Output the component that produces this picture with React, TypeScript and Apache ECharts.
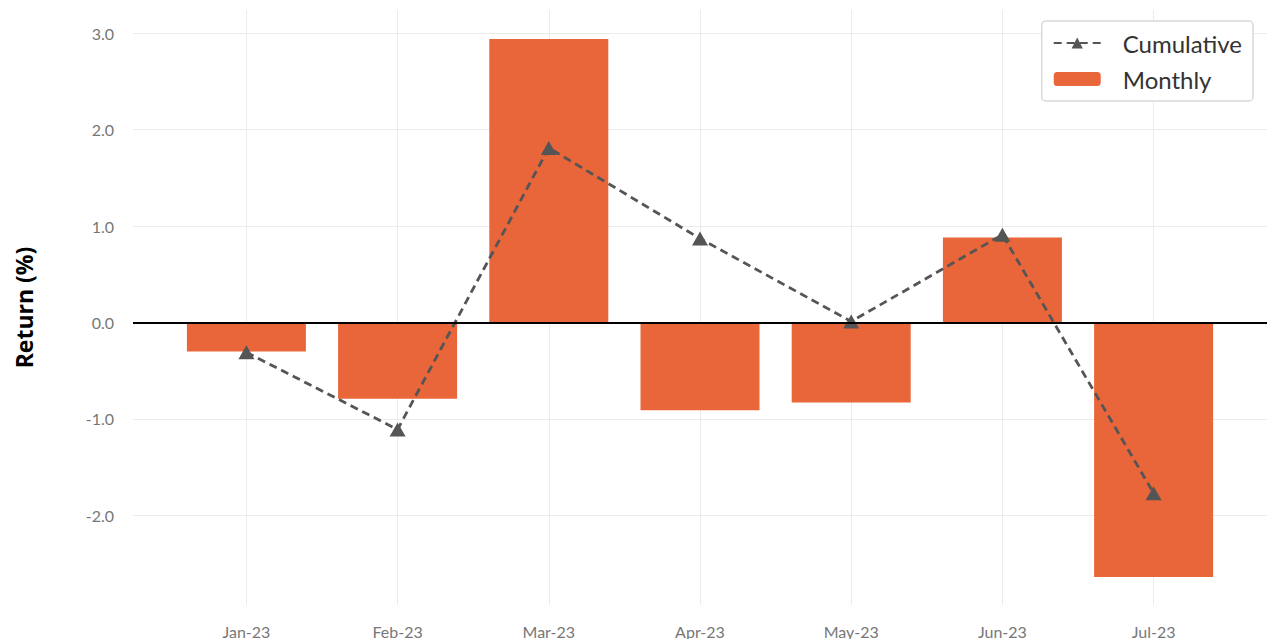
import React, { useEffect, useRef } from "react";
import * as echarts from "echarts";

const months = ["Jan-23", "Feb-23", "Mar-23", "Apr-23", "May-23", "Jun-23", "Jul-23"];
const monthly = [-0.3, -0.79, 2.94, -0.91, -0.83, 0.88, -2.64];
const cumulative = [-0.31, -1.11, 1.81, 0.87, 0.01, 0.91, -1.77];
const yMin = -2.93;
const yMax = 3.24;

export default function App() {
  const ref = useRef<HTMLDivElement>(null);
  useEffect(() => {
    if (!ref.current) return;
    const chart = echarts.init(ref.current, null, { renderer: "svg" });
    const font = "Lato, 'Noto Sans', sans-serif";
    chart.setOption({
      animation: false,
      backgroundColor: "#ffffff",
      textStyle: { fontFamily: font },
      grid: { left: 133, right: 0, top: 10, bottom: 33, containLabel: false },
      legend: {
        orient: "vertical",
        right: 14,
        top: 21,
        padding: [10, 11, 10, 11],
        itemGap: 12,
        itemWidth: 47,
        itemHeight: 14,
        borderColor: "#d9d9d9",
        borderWidth: 1.5,
        borderRadius: 4,
        backgroundColor: "#ffffff",
        textStyle: { fontSize: 24, color: "#333333", fontFamily: font, padding: [0, 0, 0, 17] },
        data: ["Cumulative", "Monthly"],
      },
      xAxis: {
        type: "value",
        min: 0.25,
        max: 7.75,
        minInterval: 1,
        maxInterval: 1,
        axisLine: { show: false },
        axisTick: { show: false },
        axisLabel: {
          showMinLabel: false,
          showMaxLabel: false,
          color: "#777777",
          fontSize: 16,
          margin: 18,
          fontFamily: font,
          formatter: (v: number) => (Number.isInteger(v) && v >= 1 && v <= months.length ? months[v - 1] : ""),
        },
        splitLine: {
          show: true,
          showMinLine: false,
          showMaxLine: false,
          lineStyle: { color: "#ebebeb", width: 1 },
        },
      },
      yAxis: {
        type: "value",
        min: yMin,
        max: yMax,
        minInterval: 1,
        maxInterval: 1,
        name: "Return (%)",
        nameLocation: "middle",
        nameGap: 98,
        nameTextStyle: { fontSize: 23, fontWeight: "bold", color: "#000000", fontFamily: "'Open Sans', Lato, sans-serif" },
        axisLine: { show: false },
        axisTick: { show: false },
        axisLabel: {
          showMinLabel: false,
          showMaxLabel: false,
          color: "#777777",
          fontSize: 16,
          margin: 19,
          fontFamily: font,
          formatter: (v: number) => v.toFixed(1),
        },
        splitLine: {
          show: true,
          showMinLine: false,
          showMaxLine: false,
          lineStyle: { color: "#ebebeb", width: 1 },
        },
      },
      series: [
        {
          name: "Monthly",
          type: "bar",
          barWidth: 119,
          data: monthly.map((v, i) => [i + 1, v]),
          itemStyle: { color: "#E8663A" },
          z: 2,
          markLine: {
            silent: true,
            symbol: "none",
            label: { show: false },
            lineStyle: { color: "#000000", width: 2, type: "solid" },
            data: [{ yAxis: 0 }],
          },
        },
        {
          name: "Cumulative",
          type: "line",
          data: cumulative.map((v, i) => [i + 1, v]),
          symbol: "triangle",
          symbolSize: [16, 14],
          itemStyle: { color: "#555555" },
          lineStyle: { color: "#555555", width: 2.8, type: [8, 5] },
          z: 4,
        },
      ],
    });
    return () => chart.dispose();
  }, []);
  return (
    <div
      ref={ref}
      style={{ position: "fixed", left: 0, top: 0, width: 1267, height: 639 }}
    />
  );
}
